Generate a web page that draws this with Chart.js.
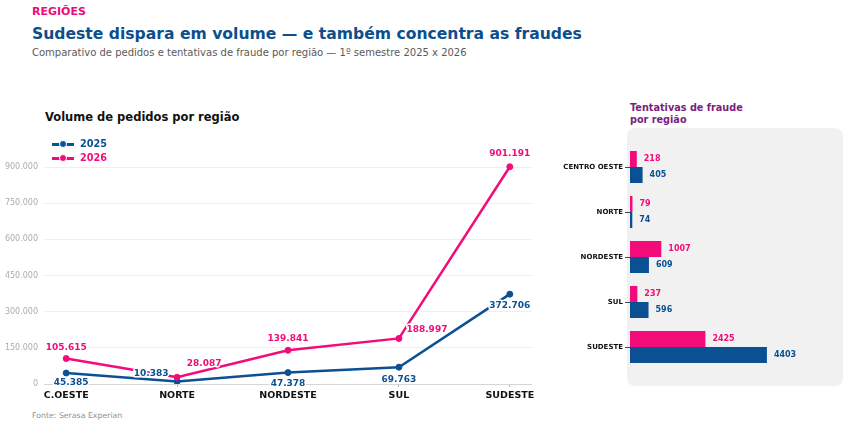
<!DOCTYPE html>
<html lang="pt-BR">
<head>
<meta charset="utf-8">
<title>Regiões — pedidos e fraudes</title>
<script src="https://cdn.jsdelivr.net/npm/chart.js@4.4.1/dist/chart.umd.min.js"></script>
<style>
  html, body { margin: 0; padding: 0; background: #fff; }
  body { width: 850px; height: 427px; position: relative; overflow: hidden; font-family: "DejaVu Sans", sans-serif; }
  .txt { position: absolute; white-space: nowrap; line-height: 1; }
  #kicker { left: 32px; top: 6px; font-size: 11px; font-weight: bold; color: #ec0b7b; }
  #title { left: 32px; top: 27px; font-size: 15.6px; font-weight: bold; color: #0b4f8c; }
  #subtitle { left: 32px; top: 48px; font-size: 10px; color: #5a5a5a; }
  #lineTitle { left: 45px; top: 112px; font-size: 11.5px; font-weight: bold; color: #111; }
  #barTitle { left: 630px; top: 102px; font-size: 9.7px; font-weight: bold; color: #7a1f7d; line-height: 12px; }
  #source { left: 32px; top: 412px; font-size: 7.8px; color: #8f8f8f; }
  #lineChart { position: absolute; left: 0; top: 141px; }
  #barChart { position: absolute; left: 560px; top: 128px; }
  .legend { position: absolute; left: 52px; font-size: 9.7px; font-weight: bold; }
  .legend .mk { position: absolute; left: 0; top: 4px; width: 22px; height: 2.5px; }
  .legend .dot { position: absolute; left: 7px; top: -3px; width: 6px; height: 6px; border-radius: 50%; border: 1px solid #fff; }
  .legend .lb { position: absolute; left: 28px; top: 0; line-height: 1; }
</style>
</head>
<body>
<div class="txt" id="kicker">REGIÕES</div>
<div class="txt" id="title">Sudeste dispara em volume — e também concentra as fraudes</div>
<div class="txt" id="subtitle">Comparativo de pedidos e tentativas de fraude por região — 1º semestre 2025 x 2026</div>
<div class="txt" id="lineTitle">Volume de pedidos por região</div>
<div class="txt" id="barTitle">Tentativas de fraude<br>por região</div>
<div class="txt" id="source">Fonte: Serasa Experian</div>

<canvas id="lineChart" width="545" height="270"></canvas>
<canvas id="barChart" width="290" height="262"></canvas>
<div id="legendBox"></div>

<script>
// volume de pedidos (gráfico de linhas)
const regioes = ['C.OESTE', 'NORTE', 'NORDESTE', 'SUL', 'SUDESTE'];
const pedidos2025 = [45385, 10383, 47378, 69763, 372706];
const pedidos2026 = [105615, 28087, 139841, 188997, 901191];
const yTicks = [0, 150000, 300000, 450000, 600000, 750000, 900000];

// tentativas de fraude (barras horizontais)
const regioesFraude = ['CENTRO OESTE', 'NORTE', 'NORDESTE', 'SUL', 'SUDESTE'];
const fraude2026 = [218, 79, 1007, 237, 2425];
const fraude2025 = [405, 74, 609, 596, 4403];

const AZUL = '#0b5092';
const ROSA = '#f20c7a';
const FONT = '"DejaVu Sans", sans-serif';

// deslocamento dos rótulos em relação ao ponto (px)
const offsets2025 = [[5, 10], [-26, -8], [0, 11], [0, 12], [0, 11]];
const offsets2026 = [[0, -11], [27, -14], [0, -12], [28, -9], [0, -13]];

function fmt(v) {
    return String(v).replace(/\B(?=(\d{3})+(?!\d))/g, '.');
}

// legenda feita em HTML
const legendBox = document.getElementById('legendBox');
[['2025', AZUL, 139], ['2026', ROSA, 153]].forEach(([txt, cor, top]) => {
    const el = document.createElement('div');
    el.className = 'legend';
    el.style.top = top + 'px';
    el.innerHTML = `<div class="mk" style="background:${cor}"><div class="dot" style="background:${cor}"></div></div>` +
        `<div class="lb" style="color:${cor}">${txt}</div>`;
    legendBox.appendChild(el);
});

const pointLabels = {
    id: 'pointLabels',
    afterDatasetsDraw(chart) {
        const ctx = chart.ctx;
        ctx.save();
        ctx.font = 'bold 9px ' + FONT;
        ctx.textAlign = 'center';
        ctx.textBaseline = 'middle';
        ctx.lineJoin = 'round';
        chart.data.datasets.forEach((ds, di) => {
            const meta = chart.getDatasetMeta(di);
            meta.data.forEach((pt, i) => {
                const [dx, dy] = ds.labelOffsets[i];
                const s = fmt(ds.data[i].y);
                ctx.lineWidth = 3;
                ctx.strokeStyle = '#fff';
                ctx.strokeText(s, pt.x + dx, pt.y + dy);
                ctx.fillStyle = ds.borderColor;
                ctx.fillText(s, pt.x + dx, pt.y + dy);
            });
        });
        ctx.restore();
    }
};

new Chart(document.getElementById('lineChart'), {
    type: 'line',
    data: {
        datasets: [
            {
                label: '2025',
                data: pedidos2025.map((v, i) => ({ x: i, y: v })),
                borderColor: AZUL,
                backgroundColor: AZUL,
                pointBackgroundColor: AZUL,
                labelOffsets: offsets2025,
                order: 1
            },
            {
                label: '2026',
                data: pedidos2026.map((v, i) => ({ x: i, y: v })),
                borderColor: ROSA,
                backgroundColor: ROSA,
                pointBackgroundColor: ROSA,
                labelOffsets: offsets2026,
                order: 0
            }
        ]
    },
    options: {
        responsive: false,
        animation: false,
        devicePixelRatio: 1,
        layout: { padding: { top: 14, right: 13, left: 0, bottom: 0 } },
        elements: {
            line: { borderWidth: 2.5, tension: 0 },
            point: { radius: 3, borderWidth: 1, borderColor: '#fff', hoverRadius: 3 }
        },
        plugins: { legend: { display: false }, tooltip: { enabled: false } },
        scales: {
            x: {
                type: 'linear',
                min: -0.2,
                max: 4.2,
                afterBuildTicks: (scale) => { scale.ticks = regioes.map((_, i) => ({ value: i })); },
                afterFit: (scale) => { scale.height = 27; },
                border: { display: false },
                grid: { drawOnChartArea: false, drawTicks: true, tickLength: 3, color: '#b5b5b5' },
                ticks: {
                    autoSkip: false,
                    maxRotation: 0,
                    padding: 3,
                    color: '#111',
                    font: { family: FONT, size: 9.5, weight: 'bold' },
                    callback: (v) => regioes[Math.round(v)]
                }
            },
            y: {
                min: 0,
                max: 950000,
                afterBuildTicks: (scale) => { scale.ticks = yTicks.map((v) => ({ value: v })); },
                afterFit: (scale) => { scale.width = 44; },
                border: { display: false },
                grid: {
                    drawTicks: false,
                    color: (c) => (c.tick && c.tick.value === 0 ? '#d6d6d6' : '#efefef'),
                    lineWidth: 1
                },
                ticks: {
                    padding: 6,
                    color: '#ababab',
                    font: { family: FONT, size: 8 },
                    callback: (v) => fmt(v)
                }
            }
        }
    },
    plugins: [pointLabels]
});

const panelBg = {
    id: 'panelBg',
    beforeDraw(chart) {
        const a = chart.chartArea;
        const ctx = chart.ctx;
        ctx.save();
        ctx.fillStyle = '#f1f1f1';
        ctx.beginPath();
        ctx.roundRect(a.left - 3, a.top - 16.5, a.right - a.left + 3, a.bottom - a.top + 33, 8);
        ctx.fill();
        ctx.restore();
    }
};

const barLabels = {
    id: 'barLabels',
    afterDatasetsDraw(chart) {
        const ctx = chart.ctx;
        ctx.save();
        ctx.font = 'bold 8px ' + FONT;
        ctx.textAlign = 'left';
        ctx.textBaseline = 'middle';
        chart.data.datasets.forEach((ds, di) => {
            chart.getDatasetMeta(di).data.forEach((bar, i) => {
                ctx.fillStyle = ds.backgroundColor;
                ctx.fillText(String(ds.data[i]), bar.x + 7, bar.y);
            });
        });
        ctx.restore();
    }
};

new Chart(document.getElementById('barChart'), {
    type: 'bar',
    data: {
        labels: regioesFraude,
        datasets: [
            { label: '2026', data: fraude2026, backgroundColor: ROSA },
            { label: '2025', data: fraude2025, backgroundColor: AZUL }
        ]
    },
    options: {
        indexAxis: 'y',
        responsive: false,
        animation: false,
        devicePixelRatio: 1,
        layout: { padding: { top: 16.5, right: 7, left: 0, bottom: 20.5 } },
        datasets: { bar: { categoryPercentage: 0.71, barPercentage: 1, borderWidth: 0 } },
        plugins: { legend: { display: false }, tooltip: { enabled: false } },
        scales: {
            x: { display: false, min: 0, max: 6850 },
            y: {
                afterFit: (scale) => { scale.width = 70; },
                border: { display: false },
                grid: { offset: false, drawOnChartArea: false, drawTicks: true, tickLength: 5, color: '#444' },
                ticks: {
                    padding: 2,
                    color: '#111',
                    font: { family: FONT, size: 7, weight: 'bold' }
                }
            }
        }
    },
    plugins: [panelBg, barLabels]
});
</script>
</body>
</html>
